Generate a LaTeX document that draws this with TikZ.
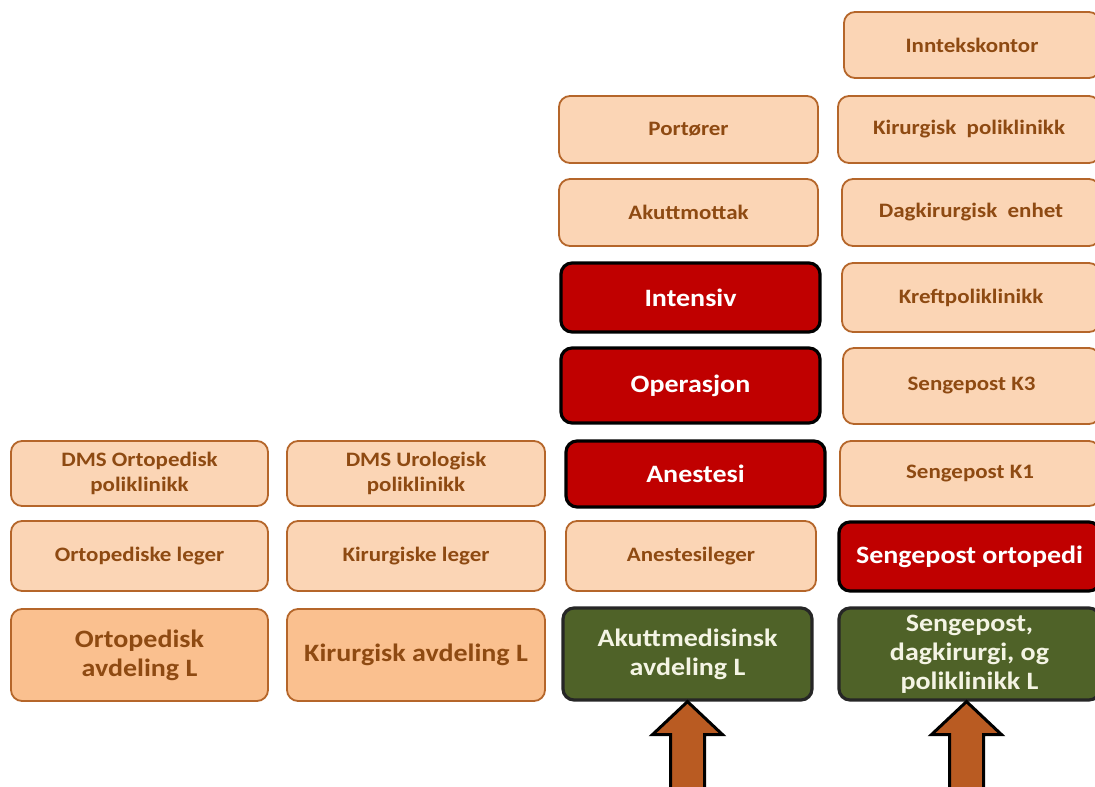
\documentclass[tikz,border=0pt]{standalone}
\usepackage{fontspec}
\setmainfont[FakeStretch=1.12]{Carlito}
\definecolor{peach}{HTML}{FBD5B5}
\definecolor{peachdark}{HTML}{FAC08F}
\definecolor{boxline}{HTML}{B5662A}
\definecolor{txtbrown}{HTML}{8E4A12}
\definecolor{redc}{HTML}{C00000}
\definecolor{greenc}{HTML}{4F6228}
\definecolor{arrowc}{HTML}{B95B22}
\definecolor{cream}{HTML}{F4F4E4}
\tikzset{
  lightbox/.style={rectangle, rounded corners=11pt, draw=boxline, line width=1.8pt, fill=peach,
    text=txtbrown, font=\bfseries\fontsize{20.5}{25}\selectfont, align=center, inner sep=0pt},
  bigbox/.style={lightbox, fill=peachdark, font=\bfseries\fontsize{25}{29}\selectfont},
  redbox/.style={rectangle, rounded corners=11pt, draw=black, line width=3.2pt, fill=redc,
    text=white, font=\bfseries\fontsize{25}{29}\selectfont, align=center, inner sep=0pt},
  greenbox/.style={redbox, fill=greenc, text=cream, draw=black!85},
  blockarrow/.style={draw=black, line width=3pt, fill=arrowc, line join=miter}
}
\newcommand{\mybox}[7]{%
  \node[#6, minimum width={(#4-#2)*1pt}, minimum height={(#5-#3)*1pt}] (#1)
    at ({(#2+#4)/2},{(#3+#5)/2}) {#7};}
\begin{document}
\begin{tikzpicture}[x=1pt,y=-1pt]
\useasboundingbox (0,0) rectangle (1095,787);
% column 1
\mybox{dmsort}{11}{441}{268}{506}{lightbox}{DMS Ortopedisk\\poliklinikk}
\mybox{ortleg}{11}{521}{268}{591}{lightbox}{Ortopediske leger}
\mybox{ortavd}{11}{609}{268}{701}{bigbox}{Ortopedisk\\avdeling L}
% column 2
\mybox{dmsuro}{287}{441}{545}{506}{lightbox}{DMS Urologisk\\poliklinikk}
\mybox{kirleg}{287}{521}{545}{591}{lightbox}{Kirurgiske leger}
\mybox{kiravd}{287}{609}{545}{701}{bigbox}{Kirurgisk avdeling L}
% column 3
\mybox{port}{559}{96}{818}{163}{lightbox}{Portører}
\mybox{akutt}{559}{179}{818}{246}{lightbox}{Akuttmottak}
\mybox{intens}{561}{263}{820}{332}{redbox}{Intensiv}
\mybox{operas}{561}{348}{820}{423}{redbox}{Operasjon}
\mybox{anest}{566}{441}{825}{507}{redbox}{Anestesi}
\mybox{anleg}{566}{521}{816}{591}{lightbox}{Anestesileger}
\mybox{akmed}{563}{608}{812}{700}{greenbox}{Akuttmedisinsk\\avdeling L}
% column 4
\mybox{inntek}{844}{12}{1100}{78}{lightbox}{Inntekskontor}
\mybox{kirpol}{838}{96}{1100}{163}{lightbox}{Kirurgisk\ \ poliklinikk}
\mybox{dagkir}{842}{179}{1100}{246}{lightbox}{Dagkirurgisk\ \ enhet}
\mybox{kreft}{842}{263}{1100}{332}{lightbox}{Kreftpoliklinikk}
\mybox{kthree}{843}{348}{1100}{424}{lightbox}{Sengepost K3}
\mybox{kone}{840}{441}{1100}{506}{lightbox}{Sengepost K1}
\mybox{sort}{839}{522}{1100}{591}{redbox}{Sengepost ortopedi}
\mybox{spost}{839}{608}{1100}{700}{greenbox}{Sengepost,\\dagkirurgi, og\\poliklinikk L}
% block arrows
\draw[blockarrow] (akmed.south) -- ++(-35,33) -- ++(18,0) -- ++(0,70) -- ++(34,0)
  -- ++(0,-70) -- ++(18,0) -- cycle;
\draw[blockarrow] ([xshift=-3pt]spost.south) -- ++(-35,33) -- ++(18,0) -- ++(0,70) -- ++(34,0)
  -- ++(0,-70) -- ++(18,0) -- cycle;
\end{tikzpicture}
\end{document}
